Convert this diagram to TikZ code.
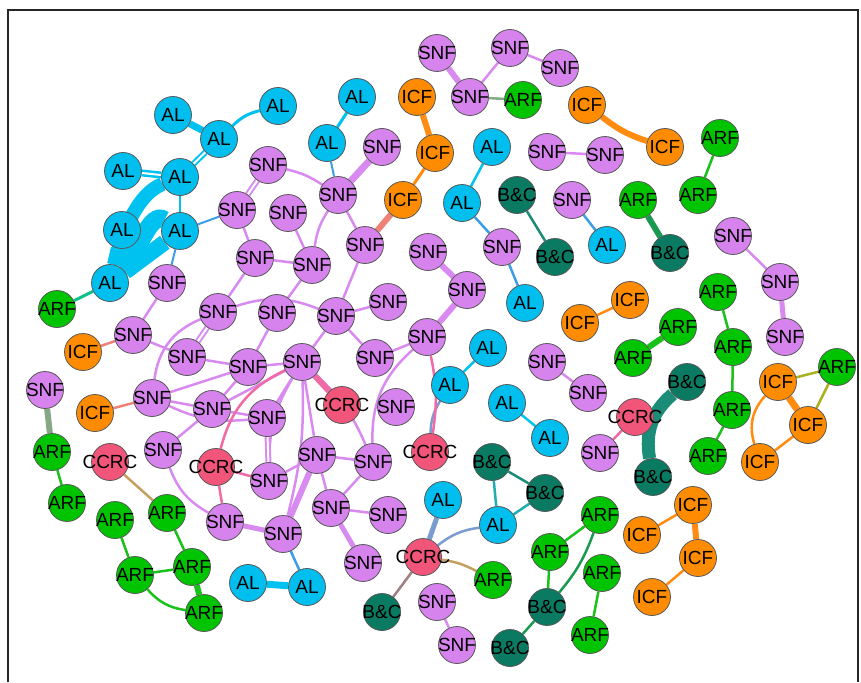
\documentclass[tikz,border=0pt]{standalone}
\usepackage{fontspec}
\setmainfont{Liberation Sans}
\usetikzlibrary{backgrounds}

% node fills
\definecolor{alC}{HTML}{00BFEF}
\definecolor{snC}{HTML}{D783EE}
\definecolor{icC}{HTML}{FF8C00}
\definecolor{arC}{HTML}{00C400}
\definecolor{bcC}{HTML}{0A7A62}
\definecolor{ccC}{HTML}{F2557A}
% edge colours (mixtures of the two end types)
\definecolor{eALc}{HTML}{00C2F0}
\definecolor{eSNc}{HTML}{D98AF0}
\definecolor{eICc}{HTML}{FF8C10}
\definecolor{eARc}{HTML}{18C218}
\definecolor{eBCc}{HTML}{1A8C78}
\definecolor{eALSNc}{HTML}{3C9EE6}
\definecolor{eSNICc}{HTML}{EE8277}
\definecolor{eSNARc}{HTML}{86A886}
\definecolor{eALARc}{HTML}{10C08A}
\definecolor{eSNCCc}{HTML}{F06AA6}
\definecolor{eALCCc}{HTML}{7A9CD0}
\definecolor{eCCARc}{HTML}{C4A060}
\definecolor{eCCBCc}{HTML}{A08080}
\definecolor{eICARc}{HTML}{AAB020}
\definecolor{eARBCc}{HTML}{1A9A50}
\definecolor{eALBCc}{HTML}{20AEB0}

\newcommand\ntext[1]{\makebox[0pt]{#1}}

\begin{document}
\begin{tikzpicture}[x=1pt,y=-1pt,
  nd/.style={circle, draw=black!65, line width=0.8pt, minimum size=37pt,
    inner sep=0pt, font=\fontsize{19}{19}\selectfont, text=black},
  al/.style={nd, fill=alC}, sn/.style={nd, fill=snC}, ic/.style={nd, fill=icC},
  ar/.style={nd, fill=arC}, bc/.style={nd, fill=bcC}, cc/.style={nd, fill=ccC},
  ew/.style={line width=2.5pt},
  eAL/.style={draw=eALc, ew}, eSN/.style={draw=eSNc, ew}, eIC/.style={draw=eICc, ew},
  eAR/.style={draw=eARc, ew}, eBC/.style={draw=eBCc, ew}, eALSN/.style={draw=eALSNc, ew},
  eSNIC/.style={draw=eSNICc, ew}, eSNAR/.style={draw=eSNARc, ew}, eALAR/.style={draw=eALARc, ew},
  eSNCC/.style={draw=eSNCCc, ew}, eALCC/.style={draw=eALCCc, ew}, eCCAR/.style={draw=eCCARc, ew},
  eCCBC/.style={draw=eCCBCc, ew}, eICAR/.style={draw=eICARc, ew}, eARBC/.style={draw=eARBCc, ew},
  eALBC/.style={draw=eALBCc, ew},
  twin/.style={double=white, double distance=2pt, line width=2pt}
]
\useasboundingbox (0,0) rectangle (861,682);
\draw[line width=1.6pt, black!85] (8,682) -- (8,10) -- (858,10) -- (858,682);

% ---------- AL ----------
\node[al] (a1) at (173,115) {AL};
\node[al] (a2) at (219,139) {AL};
\node[al] (a3) at (278,106) {AL};
\node[al] (a4) at (123,171) {AL};
\node[al] (a5) at (180,177) {AL};
\node[al] (a6) at (122,230) {AL};
\node[al] (a7) at (180,231) {AL};
\node[al] (a8) at (110,283) {AL};
\node[al] (a9) at (357,97) {AL};
\node[al] (a10) at (327,143) {AL};
\node[al] (a11) at (492,147) {AL};
\node[al] (a12) at (462,203) {AL};
\node[al] (a13) at (525,303) {AL};
\node[al] (a14) at (607,245) {AL};
\node[al] (a15) at (488,348) {AL};
\node[al] (a16) at (450,385) {AL};
\node[al] (a17) at (507,403) {AL};
\node[al] (a18) at (550,438) {AL};
\node[al] (a19) at (443,500) {AL};
\node[al] (a20) at (498,525) {AL};
\node[al] (a21) at (307,587) {AL};
\node[al] (a22) at (248,583) {AL};

% ---------- SNF ----------
\node[sn] (s1) at (268,165) {\ntext{SNF}};
\node[sn] (s2) at (338,195) {\ntext{SNF}};
\node[sn] (s3) at (382,147) {\ntext{SNF}};
\node[sn] (s4) at (237,210) {\ntext{SNF}};
\node[sn] (s5) at (288,213) {\ntext{SNF}};
\node[sn] (s6) at (365,245) {\ntext{SNF}};
\node[sn] (s7) at (255,258) {\ntext{SNF}};
\node[sn] (s8) at (312,265) {\ntext{SNF}};
\node[sn] (s9) at (167,283) {\ntext{SNF}};
\node[sn] (s10) at (218,312) {\ntext{SNF}};
\node[sn] (s11) at (277,313) {\ntext{SNF}};
\node[sn] (s12) at (336,316) {\ntext{SNF}};
\node[sn] (s13) at (388,302) {\ntext{SNF}};
\node[sn] (s14) at (133,335) {\ntext{SNF}};
\node[sn] (s15) at (187,357) {\ntext{SNF}};
\node[sn] (s16) at (248,367) {\ntext{SNF}};
\node[sn] (s17) at (302,362) {\ntext{SNF}};
\node[sn] (s18) at (375,358) {\ntext{SNF}};
\node[sn] (s19) at (427,337) {\ntext{SNF}};
\node[sn] (s20) at (467,290) {\ntext{SNF}};
\node[sn] (s21) at (428,252) {\ntext{SNF}};
\node[sn] (s22) at (45,390) {\ntext{SNF}};
\node[sn] (s23) at (152,398) {\ntext{SNF}};
\node[sn] (s24) at (212,409) {\ntext{SNF}};
\node[sn] (s25) at (267,418) {\ntext{SNF}};
\node[sn] (s26) at (396,407) {\ntext{SNF}};
\node[sn] (s27) at (163,450) {\ntext{SNF}};
\node[sn] (s28) at (317,455) {\ntext{SNF}};
\node[sn] (s29) at (373,462) {\ntext{SNF}};
\node[sn] (s30) at (269,481) {\ntext{SNF}};
\node[sn] (s31) at (225,522) {\ntext{SNF}};
\node[sn] (s32) at (283,534) {\ntext{SNF}};
\node[sn] (s33) at (331,508) {\ntext{SNF}};
\node[sn] (s34) at (388,515) {\ntext{SNF}};
\node[sn] (s35) at (363,563) {\ntext{SNF}};
\node[sn] (t1) at (437,53) {\ntext{SNF}};
\node[sn] (t2) at (510,48) {\ntext{SNF}};
\node[sn] (t3) at (560,68) {\ntext{SNF}};
\node[sn] (t4) at (470,97) {\ntext{SNF}};
\node[sn] (t5) at (547,152) {\ntext{SNF}};
\node[sn] (t6) at (605,155) {\ntext{SNF}};
\node[sn] (t7) at (502,247) {\ntext{SNF}};
\node[sn] (t8) at (572,200) {\ntext{SNF}};
\node[sn] (t9) at (733,236) {\ntext{SNF}};
\node[sn] (t10) at (780,282) {\ntext{SNF}};
\node[sn] (t11) at (785,337) {\ntext{SNF}};
\node[sn] (t12) at (547,362) {\ntext{SNF}};
\node[sn] (t13) at (588,393) {\ntext{SNF}};
\node[sn] (t14) at (600,453) {\ntext{SNF}};
\node[sn] (t15) at (437,602) {\ntext{SNF}};
\node[sn] (t16) at (457,645) {\ntext{SNF}};

% ---------- ICF ----------
\node[ic] (i1) at (417,97) {ICF};
\node[ic] (i2) at (435,153) {ICF};
\node[ic] (i3) at (403,200) {ICF};
\node[ic] (i4) at (587,105) {ICF};
\node[ic] (i5) at (665,147) {ICF};
\node[ic] (i6) at (580,323) {ICF};
\node[ic] (i7) at (630,300) {ICF};
\node[ic] (i8) at (778,382) {ICF};
\node[ic] (i9) at (808,425) {ICF};
\node[ic] (i10) at (760,462) {ICF};
\node[ic] (i11) at (693,505) {ICF};
\node[ic] (i12) at (642,535) {ICF};
\node[ic] (i13) at (698,558) {ICF};
\node[ic] (i14) at (652,597) {ICF};
\node[ic] (i15) at (83,352) {ICF};
\node[ic] (i16) at (95,413) {ICF};

% ---------- ARF ----------
\node[ar] (r1) at (523,100) {\ntext{ARF}};
\node[ar] (r2) at (720,138) {\ntext{ARF}};
\node[ar] (r3) at (698,195) {\ntext{ARF}};
\node[ar] (r4) at (638,200) {\ntext{ARF}};
\node[ar] (r5) at (718,292) {\ntext{ARF}};
\node[ar] (r6) at (678,327) {\ntext{ARF}};
\node[ar] (r7) at (633,358) {\ntext{ARF}};
\node[ar] (r8) at (733,347) {\ntext{ARF}};
\node[ar] (r9) at (837,367) {\ntext{ARF}};
\node[ar] (r10) at (732,410) {\ntext{ARF}};
\node[ar] (r11) at (708,456) {\ntext{ARF}};
\node[ar] (r12) at (600,515) {\ntext{ARF}};
\node[ar] (r13) at (550,552) {\ntext{ARF}};
\node[ar] (r14) at (602,573) {\ntext{ARF}};
\node[ar] (r15) at (590,635) {\ntext{ARF}};
\node[ar] (r16) at (493,580) {\ntext{ARF}};
\node[ar] (r17) at (57,309) {\ntext{ARF}};
\node[ar] (r18) at (52,452) {\ntext{ARF}};
\node[ar] (r19) at (67,503) {\ntext{ARF}};
\node[ar] (r20) at (115,520) {\ntext{ARF}};
\node[ar] (r21) at (167,513) {\ntext{ARF}};
\node[ar] (r22) at (135,575) {\ntext{ARF}};
\node[ar] (r23) at (192,567) {\ntext{ARF}};
\node[ar] (r24) at (204,613) {\ntext{ARF}};

% ---------- B&C ----------
\node[bc] (b1) at (517,195) {\ntext{B\&C}};
\node[bc] (b2) at (555,257) {\ntext{B\&C}};
\node[bc] (b3) at (670,253) {\ntext{B\&C}};
\node[bc] (b4) at (687,382) {\ntext{B\&C}};
\node[bc] (b5) at (653,477) {\ntext{B\&C}};
\node[bc] (b6) at (492,462) {\ntext{B\&C}};
\node[bc] (b7) at (545,493) {\ntext{B\&C}};
\node[bc] (b8) at (382,612) {\ntext{B\&C}};
\node[bc] (b9) at (547,607) {\ntext{B\&C}};
\node[bc] (b10) at (510,648) {\ntext{B\&C}};

% ---------- CCRC ----------
\node[cc] (c1) at (342,405) {\ntext{CCRC}};
\node[cc] (c2) at (216,467) {\ntext{CCRC}};
\node[cc] (c3) at (430,452) {\ntext{CCRC}};
\node[cc] (c4) at (110,462) {\ntext{CCRC}};
\node[cc] (c5) at (635,417) {\ntext{CCRC}};
\node[cc] (c6) at (423,557) {\ntext{CCRC}};

\begin{scope}[on background layer]
% AL group, upper left
\draw[eAL, line width=7pt] (a1) -- (a2);
\draw[eAL, line width=3pt] (a2) to[bend left=15] (a3);
\draw[eAL, twin] (a2) -- (a5);
\draw[eAL, twin, line width=2.5pt] (a4) -- (a5);
\draw[eAL, line width=2pt] (a5) -- (a7);
\draw[eAL, line width=14pt] (a5) .. controls (135,195) and (120,240) .. (a8);
\draw[eAL, line width=14pt] (a6) -- (a8);
\draw[eAL, line width=18pt] (a7) .. controls (150,210) and (140,250) .. (a8);
\draw[eAL, line width=16pt] (a7) -- (a8);
\draw[eALAR, line width=3pt] (a8) -- (r17);
\draw[eALSN, line width=2pt] (a7) -- (s4);
\draw[eALSN, line width=2pt] (a7) -- (s9);

% SNF core
\draw[eSN, twin] (s1) -- (s4);
\draw[eSN] (s1) to[bend left=10] (s2);
\draw[eSN, line width=7pt] (s3) -- (s2);
\draw[eSN] (s2) -- (s6);
\draw[eSN] (s2) to[bend right=12] (s8);
\draw[eSN] (s4) -- (s7);
\draw[eSN] (s5) -- (s8);
\draw[eSN] (s7) -- (s8);
\draw[eSN] (s7) -- (s10);
\draw[eSN] (s8) -- (s11);
\draw[eSN] (s6) -- (s12);
\draw[eSN] (s10) to[bend left=20] (s12);
\draw[eSN] (s12) -- (s13);
\draw[eSN] (s12) -- (s17);
\draw[eSN] (s12) -- (s18);
\draw[eSN] (s9) -- (s14);
\draw[eSN] (s14) -- (s15);
\draw[eSN, twin] (s10) -- (s15);
\draw[eSN] (s10) to[bend right=30] (s23);
\draw[eSN] (s15) -- (s16);
\draw[eSN] (s11) -- (s16);
\draw[eSN] (s16) -- (s17);
\draw[eSN] (s16) -- (s24);
\draw[eSN] (s16) -- (s23);
\draw[eSN] (s17) -- (s24);
\draw[eSN] (s17) -- (s25);
\draw[eSN] (s17) -- (s28);
\draw[eSN] (s17) to[bend left=12] (s29);
\draw[eSN] (s17) to[bend right=15] (s30);
\draw[eSN] (s17) to[bend left=8] (s32);
\draw[eSN] (s18) -- (s19);
\draw[eSN] (s19) to[bend right=25] (s29);
\draw[eSN] (s23) -- (s24);
\draw[eSN] (s24) -- (s25);
\draw[eSN] (s23) to[bend right=15] (s25);
\draw[eSN] (s24) -- (s27);
\draw[eSN, twin] (s25) -- (s30);
\draw[eSN] (s28) -- (s29);
\draw[eSN] (s28) -- (s30);
\draw[eSN] (s28) -- (s33);
\draw[eSN] (s29) -- (s33);
\draw[eSN] (s33) -- (s34);
\draw[eSN] (s27) to[bend right=20] (s31);
\draw[eSN, line width=5pt] (s31) -- (s32);
\draw[eSN, line width=6pt] (s32) -- (s28);
\draw[eSN, line width=5pt] (s33) -- (s35);
\draw[eSN, line width=6pt] (s19) -- (s20);
\draw[eSN, line width=6pt] (s20) -- (s21);
\draw[eSNCC, line width=6pt] (s17) -- (c1);
\draw[eSNCC] (s17) to[bend right=25] (c2);
\draw[eSNCC] (c2) -- (s30);
\draw[eSNCC] (c2) -- (s31);
\draw[eSNIC] (s14) -- (i15);
\draw[eSNIC] (s23) -- (i16);
\draw[eALSN] (s32) -- (a21);
\draw[eAL, line width=7pt] (a22) -- (a21);

% top
\draw[eAL, line width=3pt] (a9) -- (a10);
\draw[eALSN, line width=2pt] (a10) -- (s2);
\draw[eIC, line width=6pt] (i1) -- (i2);
\draw[eIC, line width=3pt] (i2) -- (i3);
\draw[eSNIC, line width=6pt] (i3) -- (s6);
\draw[eSN, line width=6pt] (t1) -- (t4);
\draw[eSN] (t4) -- (t2);
\draw[eSN] (t2) -- (t3);
\draw[eSNAR] (t4) -- (r1);
\draw[eIC, line width=6pt] (i4) to[bend right=10] (i5);
\draw[eAR] (r2) -- (r3);
\draw[eARBC, line width=6pt] (r4) -- (b3);
\draw[eSN] (t5) -- (t6);
\draw[eAL] (a11) -- (a12);
\draw[eALSN] (a12) -- (t7);
\draw[eALSN] (t7) -- (a13);
\draw[eBC] (b1) -- (b2);
\draw[eALSN] (t8) -- (a14);

% right
\draw[eSN] (t9) -- (t10);
\draw[eSN, line width=5pt] (t10) -- (t11);
\draw[eIC] (i6) -- (i7);
\draw[eAR, line width=6pt] (r6) -- (r7);
\draw[eAR] (r5) -- (r8);
\draw[eAR] (r8) -- (r10);
\draw[eAR] (r10) -- (r11);
\draw[eICAR] (i8) -- (r9);
\draw[eICAR] (i9) -- (r9);
\draw[eIC, line width=7pt] (i8) -- (i9);
\draw[eIC] (i8) to[bend right=30] (i10);
\draw[eIC] (i10) -- (i9);
\draw[eBC, line width=13pt] (b4) to[bend right=30] (b5);
\draw[eSN] (t12) -- (t13);
\draw[eSNCC] (c5) -- (t14);
\draw[eIC] (i11) -- (i12);
\draw[eIC, line width=6pt] (i11) -- (i13);
\draw[eIC] (i13) -- (i14);

% middle and bottom
\draw[eAL] (a15) -- (a16);
\draw[eALCC] (a16) to[bend right=15] (c3);
\draw[eSNCC] (s19) to[bend left=10] (c3);
\draw[eAL] (a17) -- (a18);
\draw[eBC] (b6) -- (b7);
\draw[eALBC] (b6) -- (a20);
\draw[eALBC] (b7) -- (a20);
\draw[eALCC] (a20) to[bend right=15] (c6);
\draw[eALCC, line width=5pt] (a19) -- (c6);
\draw[eCCAR] (c6) to[bend left=10] (r16);
\draw[eCCBC] (c6) -- (b8);
\draw[eSN] (t15) -- (t16);
\draw[eAR] (r13) -- (b9);
\draw[eAR] (r13) -- (r12);
\draw[eARBC] (b9) to[bend right=10] (r12);
\draw[eARBC] (b9) -- (b10);
\draw[eAR] (r14) -- (r15);

% lower left
\draw[eSNAR, line width=6pt] (s22) -- (r18);
\draw[eAR] (r18) -- (r19);
\draw[eCCAR] (c4) -- (r21);
\draw[eAR] (r20) -- (r22);
\draw[eAR] (r21) -- (r23);
\draw[eAR] (r22) -- (r23);
\draw[eAR] (r22) to[bend right=20] (r24);
\draw[eAR, line width=6pt] (r23) -- (r24);
\end{scope}
\end{tikzpicture}
\end{document}
